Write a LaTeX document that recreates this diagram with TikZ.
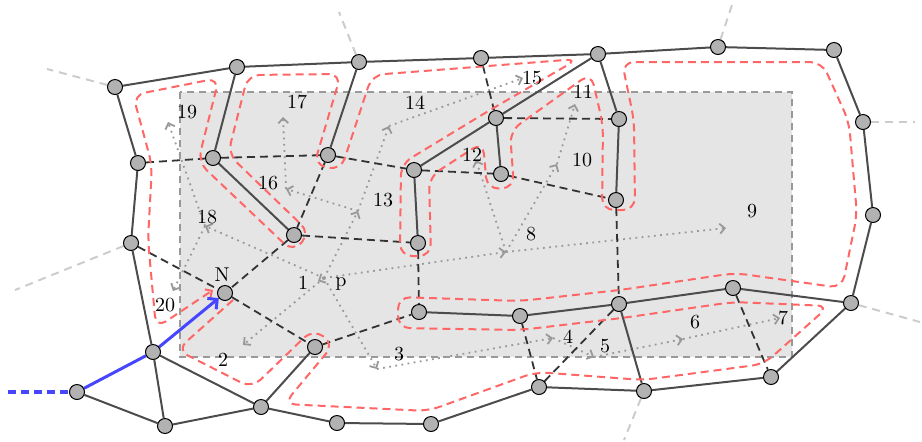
\documentclass[tikz,border=0pt]{standalone}
\usetikzlibrary{arrows.meta}
\definecolor{entryblue}{RGB}{70,70,255}
\pgfdeclarelayer{bg}
\pgfsetlayers{bg,main}
\begin{document}
\begin{tikzpicture}[x=0.5pt,y=-0.5pt,
  vertex/.style={circle,draw=black,line width=0.5pt,fill=black!30,inner sep=0pt,minimum size=7.5pt},
  wall/.style={draw=black!70,line width=1pt},
  link/.style={draw=black!80,line width=0.9pt,dash pattern=on 4pt off 2.5pt},
  spur/.style={draw=black!20,line width=1pt,dash pattern=on 4pt off 3pt},
  probe/.style={draw=black!40,line width=0.9pt,dash pattern=on 0.9pt off 2.2pt,-{Straight Barb[length=2.5pt,width=5pt]}},
  route/.style={draw=red!60,line width=1pt,dash pattern=on 4pt off 2.5pt,rounded corners=6pt,-{Straight Barb[length=2.5pt,width=5pt]}},
  entry/.style={draw=entryblue,line width=1.5pt},
  lbl/.style={inner sep=0pt}
]
\useasboundingbox (0,0) rectangle (922,441);

% vertices of the outer ring
\node[vertex] (A1) at (115,87) {};
\node[vertex] (A2) at (237,67) {};
\node[vertex] (A3) at (359,62) {};
\node[vertex] (A4) at (481,58) {};
\node[vertex] (A5) at (598,54) {};
\node[vertex] (A6) at (718,47) {};
\node[vertex] (A7) at (834,50) {};
\node[vertex] (A8) at (863,122) {};
\node[vertex] (A9) at (873,215) {};
\node[vertex] (A10) at (851,303) {};
\node[vertex] (A11) at (771,377) {};
\node[vertex] (A12) at (644,391) {};
\node[vertex] (A13) at (539,387) {};
\node[vertex] (A14) at (431,424) {};
\node[vertex] (A15) at (337,423) {};
\node[vertex] (A16) at (261,407) {};
\node[vertex] (A17) at (165,426) {};
\node[vertex] (A18) at (77,392) {};
\node[vertex] (A19) at (153,352) {};
\node[vertex] (A20) at (131,243) {};
\node[vertex] (A21) at (138,163) {};
% inner vertices
\node[vertex] (B1) at (213,158) {};
\node[vertex] (B2) at (294,235) {};
\node[vertex] (B3) at (328,155) {};
\node[vertex] (B4) at (414,170) {};
\node[vertex] (B5) at (496,118) {};
\node[vertex] (B6) at (501,174) {};
\node[vertex] (B7) at (619,119) {};
\node[vertex] (B8) at (616,200) {};
\node[vertex] (B9) at (418,243) {};
\node[vertex] (B10) at (419,312) {};
\node[vertex] (B11) at (520,316) {};
\node[vertex] (B12) at (619,304) {};
\node[vertex] (B13) at (733,288) {};
\node[vertex] (B14) at (315,347) {};
\node[vertex] (N) at (225,293) {};

% free ends
\coordinate (s1) at (47,69);
\coordinate (s3) at (339,12);
\coordinate (s6) at (732,5);
\coordinate (s8) at (915,122);
\coordinate (s10) at (920,322);
\coordinate (s12) at (624,440);
\coordinate (s20) at (15,290);
\coordinate (door) at (8,392);

% probe points
\coordinate (p) at (324,278);
\coordinate (t1) at (318,281);
\coordinate (t2) at (243,345);
\coordinate (t3) at (377,369);
\coordinate (t4) at (553,338);
\coordinate (t5) at (594,357);
\coordinate (t6) at (683,339);
\coordinate (t7) at (780,318);
\coordinate (t8) at (506,252);
\coordinate (t9) at (726,228);
\coordinate (t10) at (557,164);
\coordinate (t11) at (575,104);
\coordinate (t12) at (476,160);
\coordinate (t13) at (358,211);
\coordinate (t14) at (389,126);
\coordinate (t15) at (523,78);
\coordinate (t16) at (286,189);
\coordinate (t17) at (283,117);
\coordinate (t18) at (205,226);
\coordinate (t19) at (168,122);
\coordinate (t20) at (173,291);

\begin{pgfonlayer}{bg}
  % region
  \draw[draw=black!40,fill=black!10,line width=0.6pt,dash pattern=on 3.5pt off 2.5pt] (180,92) rectangle (792,357);
  % outward spurs
  \draw[spur] (A1) -- (s1);
  \draw[spur] (A3) -- (s3);
  \draw[spur] (A6) -- (s6);
  \draw[spur] (A8) -- (s8);
  \draw[spur] (A10) -- (s10);
  \draw[spur] (A12) -- (s12);
  \draw[spur] (A20) -- (s20);
  % probes
  \draw[probe] (p) -- (t1);
  \draw[probe] (p) -- (t2);
  \draw[probe] (p) -- (t3);
  \draw[probe] (t3) -- (t4);
  \draw[probe] (t4) -- (t5);
  \draw[probe] (t5) -- (t6);
  \draw[probe] (t6) -- (t7);
  \draw[probe] (p) -- (t8);
  \draw[probe] (t8) -- (t9);
  \draw[probe] (t8) -- (t10);
  \draw[probe] (t10) -- (t11);
  \draw[probe] (t8) -- (t12);
  \draw[probe] (p) -- (t13);
  \draw[probe] (t13) -- (t14);
  \draw[probe] (t14) -- (t15);
  \draw[probe] (t13) -- (t16);
  \draw[probe] (t16) -- (t17);
  \draw[probe] (p) -- (t18);
  \draw[probe] (t18) -- (t19);
  \draw[probe] (t18) -- (t20);
  % dashed links
  \draw[link] (A21) -- (B1) -- (B3) -- (B4) -- (B6) -- (B8) -- (B12);
  \draw[link] (B5) -- (B7);
  \draw[link] (A4) -- (B5);
  \draw[link] (B3) -- (B2) -- (N);
  \draw[link] (B2) -- (B9) -- (B10);
  \draw[link] (A20) -- (N) -- (B14) -- (B10);
  \draw[link] (B11) -- (A13) -- (B12);
  \draw[link] (B13) -- (A11);
  % walls
  \draw[wall] (A1) -- (A2) -- (A3) -- (A4) -- (A5) -- (A6) -- (A7) -- (A8) -- (A9) -- (A10) -- (A11) -- (A12) -- (A13) -- (A14) -- (A15) -- (A16) -- (A17) -- (A18);
  \draw[wall] (A1) -- (A21) -- (A20) -- (A19) -- (A17);
  \draw[wall] (A19) -- (A16);
  \draw[wall] (A2) -- (B1) -- (B2);
  \draw[wall] (A3) -- (B3);
  \draw[wall] (A5) -- (B5) -- (B4) -- (B9);
  \draw[wall] (B5) -- (B6);
  \draw[wall] (A5) -- (B7) -- (B8);
  \draw[wall] (B10) -- (B11) -- (B12) -- (B13) -- (A10);
  \draw[wall] (B12) -- (A12);
  \draw[wall] (A16) -- (B14);
  % wall-following route
  \draw[route] (233,300) -- (177,350) -- (252,388) -- (313,329) -- (334,344) -- (284,404)
    -- (428,411) -- (536,372) -- (643,380) -- (764,364) -- (829,306)
    -- (733,302) -- (622,318) -- (520,330) -- (398,328) -- (398,297)
    -- (520,301) -- (620,290) -- (735,273) -- (842,288) -- (857,215) -- (849,122)
    -- (822,62) -- (622,62) -- (634,120) -- (635,210) -- (602,210) -- (603,125)
    -- (591,73) -- (510,131) -- (514,188) -- (487,189) -- (483,142) -- (429,177)
    -- (431,256) -- (400,256) -- (401,164) -- (490,110) -- (578,59) -- (372,75)
    -- (341,170) -- (314,165) -- (341,74) -- (248,75) -- (228,154) -- (310,233)
    -- (293,252) -- (198,162) -- (219,78) -- (133,95) -- (152,165) -- (148,240)
    -- (156,328) -- (213,290);
  % entrance
  \draw[entry,line width=2pt,dash pattern=on 4pt off 2.5pt] (door) -- (A18);
  \draw[entry] (A18) -- (A19);
  \draw[entry,-{Straight Barb[length=3.5pt,width=7pt]}] (A19) -- (N);
\end{pgfonlayer}

% labels
\node[lbl] (l1) at (303,283) {1};
\node[lbl] (lp) at (341,284) {p};
\node[lbl] (l2) at (223,360) {2};
\node[lbl] (l3) at (399,354) {3};
\node[lbl] (l4) at (568,337) {4};
\node[lbl] (l5) at (605,346) {5};
\node[lbl] (l6) at (695,322) {6};
\node[lbl] (l7) at (783,318) {7};
\node[lbl] (l8) at (531,234) {8};
\node[lbl] (l9) at (752,211) {9};
\node[lbl] (l10) at (582,160) {10};
\node[lbl] (l11) at (583,92) {11};
\node[lbl] (l12) at (472,155) {12};
\node[lbl] (l13) at (383,200) {13};
\node[lbl] (l14) at (415,103) {14};
\node[lbl] (l15) at (532,78) {15};
\node[lbl] (l16) at (268,183) {16};
\node[lbl] (l17) at (297,102) {17};
\node[lbl] (l18) at (207,217) {18};
\node[lbl] (l19) at (187,112) {19};
\node[lbl] (l20) at (165,305) {20};
\node[lbl] (lN) at (222,275) {N};
\end{tikzpicture}
\end{document}
